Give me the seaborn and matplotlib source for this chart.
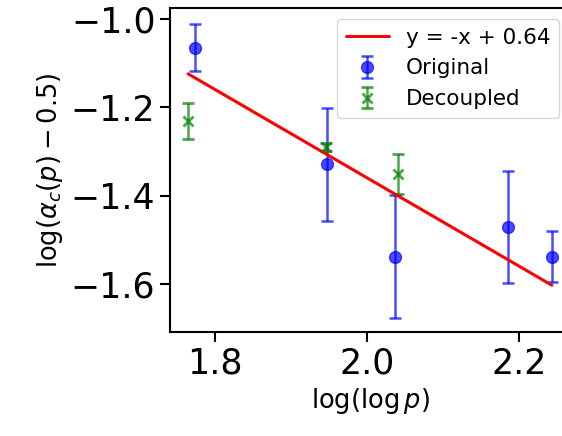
import numpy as np
import pandas as pd
import matplotlib
matplotlib.use("Agg")
import matplotlib.pyplot as plt
import seaborn as sns

# Data
orig_x = [1.7737, 1.947, 2.037, 2.186, 2.243]
orig_y = [-1.065, -1.329, -1.538, -1.4715, -1.538]
orig_err = [0.054, 0.128, 0.140, 0.127, 0.058]

dec_x = [1.7645, 1.946, 2.040]
dec_y = [-1.2317, -1.290, -1.3516]
dec_err = [0.041, 0.008, 0.045]

fit_slope = -1.0
fit_intercept = 0.64
fit_label = "y = -x + 0.64"

xticks = [1.8, 2.0, 2.2]
yticks = [-1.0, -1.2, -1.4, -1.6]

sns.set_style("ticks")
plt.rcParams["font.family"] = ["DejaVu Sans"]
plt.rcParams.update({"text.color": "black", "axes.labelcolor": "black",
                     "xtick.color": "black", "ytick.color": "black",
                     "axes.edgecolor": "black"})

fig = plt.figure(figsize=(5.62, 4.36), dpi=100)
ax = fig.add_axes([0.3025, 0.2385, 0.7117, 0.7424])

ax.errorbar(orig_x, orig_y, yerr=orig_err, fmt="o", color="blue", alpha=0.7,
            markersize=8.5, capsize=4.5, elinewidth=1.8, capthick=1.8, label="Original")
ax.errorbar(dec_x, dec_y, yerr=dec_err, fmt="x", color="green", alpha=0.7,
            markersize=7, markeredgewidth=2, capsize=4.5, elinewidth=1.8, capthick=1.8,
            label="Decoupled")

all_x = np.array(orig_x + dec_x)
line_x = np.array([all_x.min(), all_x.max()])
fit_df = pd.DataFrame({"x": line_x, "y": fit_slope * line_x + fit_intercept})
sns.lineplot(data=fit_df, x="x", y="y", color="red", linewidth=2.2, ax=ax, label=fit_label)

ax.set_xlim(1.7406, 2.2669)
ax.set_ylim(-1.709, -0.976)
ax.set_xticks(xticks)
ax.set_yticks(yticks)
ax.set_xticklabels([f"{v:.1f}" for v in xticks])
ax.set_yticklabels([f"\u2212{abs(v):.1f}" for v in yticks])
ax.tick_params(labelsize=25, length=7, width=1.5, color="black", labelcolor="black")
for s in ax.spines.values():
    s.set_linewidth(1.5)
    s.set_color("black")

ax.set_xlabel(r"$\log(\log p)$", fontsize=18.5, color="black")
ax.set_ylabel(r"$\log(\alpha_c(p) - 0.5)$", fontsize=18.5, color="black")

handles, labels = ax.get_legend_handles_labels()
order = [labels.index(fit_label), labels.index("Original"), labels.index("Decoupled")]
leg = ax.legend([handles[i] for i in order], [labels[i] for i in order],
                loc="upper right", fontsize=15.5, frameon=True, edgecolor="0.8",
                framealpha=0.8, fancybox=True)
for t in leg.get_texts():
    t.set_color("black")

fig.savefig("out.png", dpi=100)
